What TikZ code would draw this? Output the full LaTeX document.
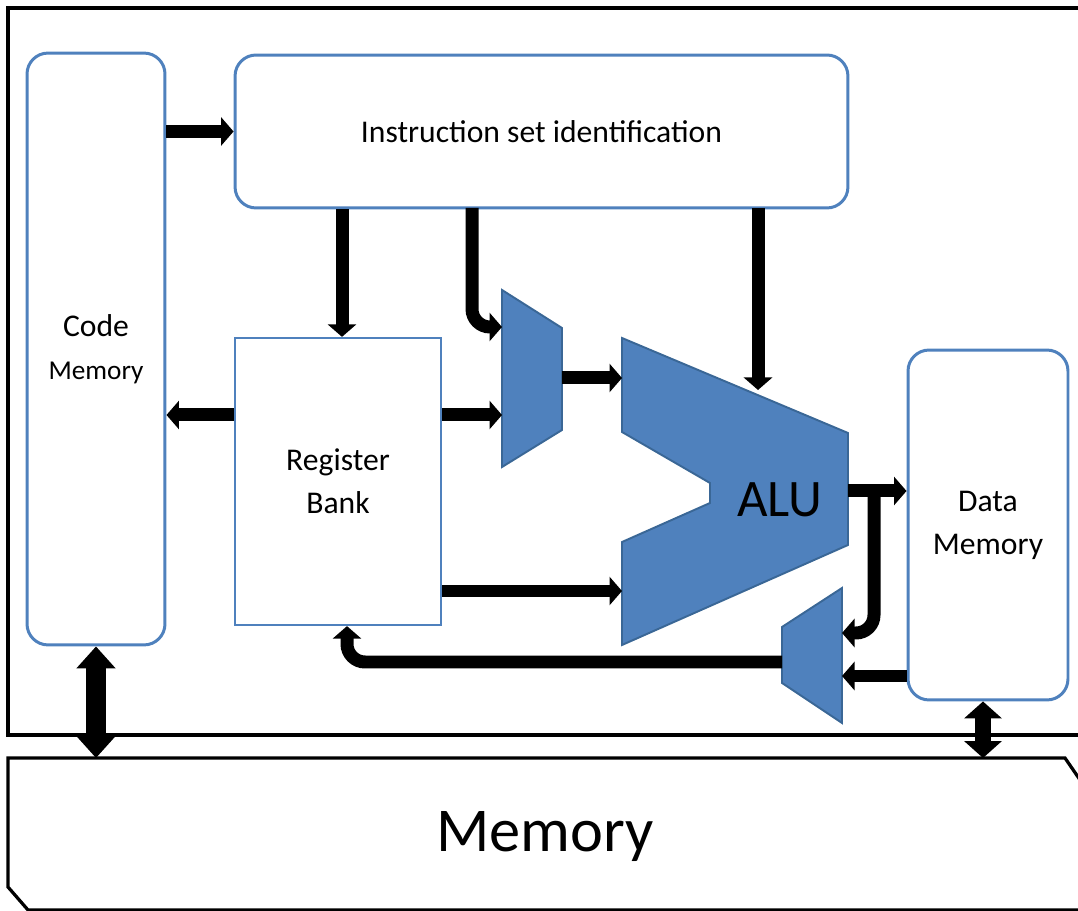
\documentclass[tikz,border=0pt]{standalone}
\usepackage{fontspec}
\setmainfont{Carlito}
\usepackage{tikz}
\usetikzlibrary{arrows.meta,positioning}

\definecolor{boxblue}{HTML}{4F81BD}
\definecolor{boxedge}{HTML}{3A6796}

\begin{document}
\begin{tikzpicture}[
  x=0.02cm, y=-0.02cm,
  font=\fontsize{18}{24.4}\selectfont,
  box/.style={draw=boxblue, line width=1.7pt, fill=white,
              rounded corners=#1, align=center, inner sep=0pt},
  box/.default=0.42cm,
  unit/.style={draw=boxedge, line width=1.1pt, fill=boxblue},
  frame/.style={draw=black, line width=0.065cm},
  arr/.style={-{Triangle[length=0.25cm, width=0.56cm]}, line width=0.26cm},
  darr/.style={{Triangle[length=0.44cm, width=0.76cm]}-{Triangle[length=0.44cm, width=0.76cm]},
               line width=0.4cm},
  sarr/.style={{Triangle[length=0.34cm, width=0.74cm]}-{Triangle[length=0.34cm, width=0.74cm]},
               line width=0.32cm},
]

\useasboundingbox (0,0) rectangle (1078,911);
\clip (0,0) rectangle (1078,911);

%% --- Frames ---
\draw[frame] (1100,8) -- (8,8) -- (8,735) -- (1100,735);
\draw[frame] (8,758) -- (1065,758) -- (1100,809) -- (1100,910)
             -- (28,910) -- (8,887) -- cycle;
\node[font=\fontsize{35.5}{40}\selectfont] (memory) at (545,837) {Memory};
\coordinate (memtop) at (545,758);

%% --- Boxes ---
\node[box, minimum width=2.76cm, minimum height=11.84cm] (codemem) at (96,349)
      {Code\\{\fontsize{15.5}{18}\selectfont Memory}};
\node[box, minimum width=12.26cm, minimum height=3.06cm] (instr) at (541.5,131.5)
      {Instruction set identification};
\node[box=0pt, line width=1.3pt, minimum width=4.12cm, minimum height=5.74cm] (regbank) at (338,481.5)
      {Register\\Bank};
\node[box, minimum width=3.2cm, minimum height=7cm] (datamem) at (988,525)
      {Data\\Memory};

%% --- Muxes and ALU ---
\draw[unit] (502,290) -- (562,328) -- (562,430) -- (502,467) -- cycle;
\draw[unit] (782,627) -- (842,588) -- (842,723) -- (782,683) -- cycle;
\draw[unit] (622,338) -- (848,433) -- (848,545) -- (622,645) -- (622,542)
            -- (710,503) -- (710,483) -- (622,432) -- cycle;
\node[font=\fontsize{30}{35}\selectfont] (alu) at (780,500) {ALU};

\coordinate (mux1top) at (502,327);
\coordinate (mux1bot) at (502,415);
\coordinate (mux1out) at (562,378);
\coordinate (aluin1)  at (622,378);
\coordinate (aluin2)  at (622,591);
\coordinate (aluctl)  at (758,390);
\coordinate (aluout)  at (848,491);
\coordinate (mux2top) at (842,633);
\coordinate (mux2bot) at (842,676);
\coordinate (mux2out) at (782,662);
\coordinate (selA)    at (472,208);
\coordinate (selB)    at (758,208);
\coordinate (tap)     at (874,491);

%% --- Arrows ---
\draw[arr] (codemem.east |- instr.west) -- (instr.west);
\draw[arr] ([xshift=0.08cm]regbank.north |- instr.south) -- ([xshift=0.08cm]regbank.north);
\draw[arr, rounded corners=0.36cm] (selA) |- (mux1top);
\draw[arr] (selB) -- (aluctl);
\draw[arr] (mux1bot -| regbank.west) -- (mux1bot -| codemem.east);
\draw[arr] (mux1bot -| regbank.east) -- (mux1bot);
\draw[arr] (mux1out) -- (aluin1);
\draw[arr] (aluin2 -| regbank.east) -- (aluin2);
\draw[arr] (aluout) -- (aluout -| datamem.west);
\draw[arr, rounded corners=0.36cm] (tap) |- (mux2top);
\draw[arr] (mux2bot -| datamem.west) -- (mux2bot);
\draw[arr, rounded corners=0.36cm] (mux2out) -| ([xshift=0.18cm]regbank.south);

%% --- Memory links ---
\draw[darr] (codemem.south) -- (codemem.south |- memtop);
\draw[sarr] ([xshift=-0.1cm]datamem.south) -- ([xshift=-0.1cm]datamem.south |- memtop);

\end{tikzpicture}
\end{document}
